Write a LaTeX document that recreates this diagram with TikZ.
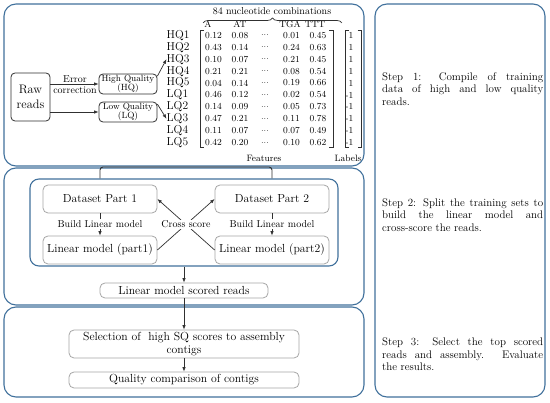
\documentclass[tikz,border=0pt]{standalone}
\usetikzlibrary{arrows.meta,decorations.pathreplacing,calc}
\definecolor{panelblue}{HTML}{41719C}
\definecolor{boxgray}{HTML}{A6A6A6}
\definecolor{ink}{HTML}{303030}
\newcommand{\fsz}[2]{\fontsize{#1}{#2}\selectfont}
\begin{document}
\begin{tikzpicture}[x=1pt,y=-1pt,
  panel/.style={draw=panelblue,line width=1.1pt,rounded corners=12pt},
  innerpanel/.style={draw=panelblue,line width=1.1pt,rounded corners=9pt,minimum width=308pt,minimum height=87pt,inner sep=0pt},
  graybox/.style={draw=boxgray,line width=0.8pt,rounded corners=5pt,fill=white,inner sep=0pt,font=\fsz{11.7}{14},align=center},
  blackbox/.style={draw=ink,line width=0.8pt,rounded corners=4pt,inner sep=0pt,align=center},
  arr/.style={-{Latex[length=4.5pt,width=3.5pt]},line width=0.7pt,draw=ink},
  brk/.style={line width=0.7pt,draw=ink},
  lbl/.style={inner sep=0pt,font=\fsz{10}{12}},
  rowlab/.style={inner sep=0pt,anchor=west,font=\fsz{11.5}{12}},
  val/.style={inner sep=0pt,font=\fsz{9.2}{11}},
  steptext/.style={inner sep=0pt,anchor=west,text width=161pt,align=justify,font=\fsz{11}{12.5}}
]
\useasboundingbox[fill=white] (0,0) rectangle (550,403);

% panels
\draw[panel] (4,4) rectangle (364,166);
\draw[panel] (4,168) rectangle (364,305);
\draw[panel] (4,307) rectangle (364,397);
\draw[panel] (375,4) rectangle (545,397);

% ---------- panel 1 ----------
\node[blackbox,minimum width=39pt,minimum height=48pt,font=\fsz{12.3}{15}] (raw) at (30.5,97) {Raw\\reads};
\node[blackbox,minimum width=58pt,minimum height=20pt,font=\fsz{9}{9.5}] (hq) at (128,84) {High Quality\\(HQ)};
\node[blackbox,minimum width=58pt,minimum height=20pt,font=\fsz{9}{9.5}] (lq) at (128,112) {Low Quality\\(LQ)};
\draw[arr] (raw.east |- hq.west) -- (hq.west);
\draw[arr] (raw.east |- lq.west) -- (lq.west);
\node[lbl] (err) at (75,79) {Error};
\node[lbl] (corr) at (75,90) {correction};

\foreach \n/\lab [count=\i] in {hqa/HQ1,hqb/HQ2,hqc/HQ3,hqd/HQ4,hqe/HQ5,lqa/LQ1,lqb/LQ2,lqc/LQ3,lqd/LQ4,lqe/LQ5}{
  \node[rowlab] (\n) at (166.5,{35.3+11.93*(\i-1)}) {\lab};
}
\draw[arr] (hq.15) -- (hqc.west);
\draw[arr] (lq.15) -- (lqc.west);

\foreach \a/\b/\c/\d/\l [count=\i] in {
  0.12/0.08/0.01/0.45/1, 0.43/0.14/0.24/0.63/1, 0.10/0.07/0.21/0.45/1,
  0.21/0.21/0.08/0.54/1, 0.04/0.14/0.19/0.66/1, 0.46/0.12/0.02/0.54/-1,
  0.14/0.09/0.05/0.73/-1, 0.47/0.21/0.11/0.78/-1, 0.11/0.07/0.07/0.49/-1,
  0.42/0.20/0.10/0.62/-1}{
  \node[val] (va\i) at (213.5,{35.3+11.93*(\i-1)}) {\a};
  \node[val] (vb\i) at (240,{35.3+11.93*(\i-1)}) {\b};
  \node[val] (vd\i) at (265,{35.3+11.93*(\i-1)}) {...};
  \node[val] (vc\i) at (291.5,{35.3+11.93*(\i-1)}) {\c};
  \node[val] (ve\i) at (318,{35.3+11.93*(\i-1)}) {\d};
  \node[val,anchor=east] (lb\i) at (353.5,{35.3+11.93*(\i-1)}) {\l};
}
% brackets
\draw[brk] (204,30) -- (200,30) -- (200,147) -- (204,147);
\draw[brk] (329,30) -- (333,30) -- (333,147) -- (329,147);
\draw[brk] (348.5,30) -- (345,30) -- (345,147) -- (348.5,147);
\draw[brk] (357.5,30) -- (361,30) -- (361,147) -- (357.5,147);
% headers
\node[val] (hA) at (208,24.5) {A};
\node[val] (hAT) at (240,24.5) {AT};
\node[val] (hTGA) at (290,24.5) {TGA};
\node[val] (hTTT) at (315,24.5) {TTT};
\node[lbl] (nuc) at (272,11.5) {84 nucleotide combinations};
\draw[brk,decorate,decoration={brace,amplitude=5pt}] (203,23) -- (342,23);
\node[val] (feat) at (264,158) {Features};
\node[val] (labs) at (348,158) {Labels};

% step texts
\node[steptext] (s1) at (382,89) {Step 1: Compile of training\linebreak data of high and low quality\linebreak reads.};
\node[steptext] (s2) at (382,215) {Step 2: Split the training sets to\linebreak build the linear model and\linebreak cross-score the reads.};
\node[steptext] (s3) at (382,354.5) {Step 3: Select the top scored\linebreak reads and assembly. Evaluate\linebreak the results.};

% ---------- panel 2 ----------
\node[innerpanel] (inner) at (184,222.5) {};
\draw[brk,line width=0.9pt,rounded corners=3pt] (inner.north -| 100,0) -- (100,167) -- (272,167) -- (inner.north -| 272,0);
\node[graybox,minimum width=114pt,minimum height=28pt] (dp1) at (100,199) {Dataset Part 1};
\node[graybox,minimum width=114pt,minimum height=28pt] (lm1) at (100,250) {Linear model (part1)};
\node[graybox,minimum width=114pt,minimum height=28pt] (dp2) at (272,199) {Dataset Part 2};
\node[graybox,minimum width=114pt,minimum height=28pt] (lm2) at (272,250) {Linear model (part2)};
\draw[arr] (dp1) -- (lm1);
\draw[arr] (dp2) -- (lm2);
\draw[arr] (lm1.east) -- (dp2.west);
\draw[arr] (lm2.west) -- (dp1.east);
\node[lbl,fill=white,inner sep=1pt] (bl1) at (100,224) {Build Linear model};
\node[lbl,fill=white,inner sep=1pt] (bl2) at (272,224) {Build Linear model};
\node[lbl,fill=white,inner sep=1pt] (cs) at (186,224.5) {Cross score};

\node[graybox,minimum width=168pt,minimum height=15pt] (lmsr) at (184,290.5) {Linear model scored reads};
\draw[arr] (inner.south) -- (lmsr.north);

% ---------- panel 3 ----------
\node[graybox,minimum width=230pt,minimum height=28pt,font=\fsz{11.7}{13.5}] (sel) at (184,344) {Selection of \ high SQ scores to assembly\\contigs};
\node[graybox,minimum width=230pt,minimum height=16pt] (qc) at (184,380) {Quality comparison of contigs};
\draw[arr] (lmsr.south) -- (sel.north);
\draw[arr] (sel.south) -- (qc.north);
\end{tikzpicture}
\end{document}
